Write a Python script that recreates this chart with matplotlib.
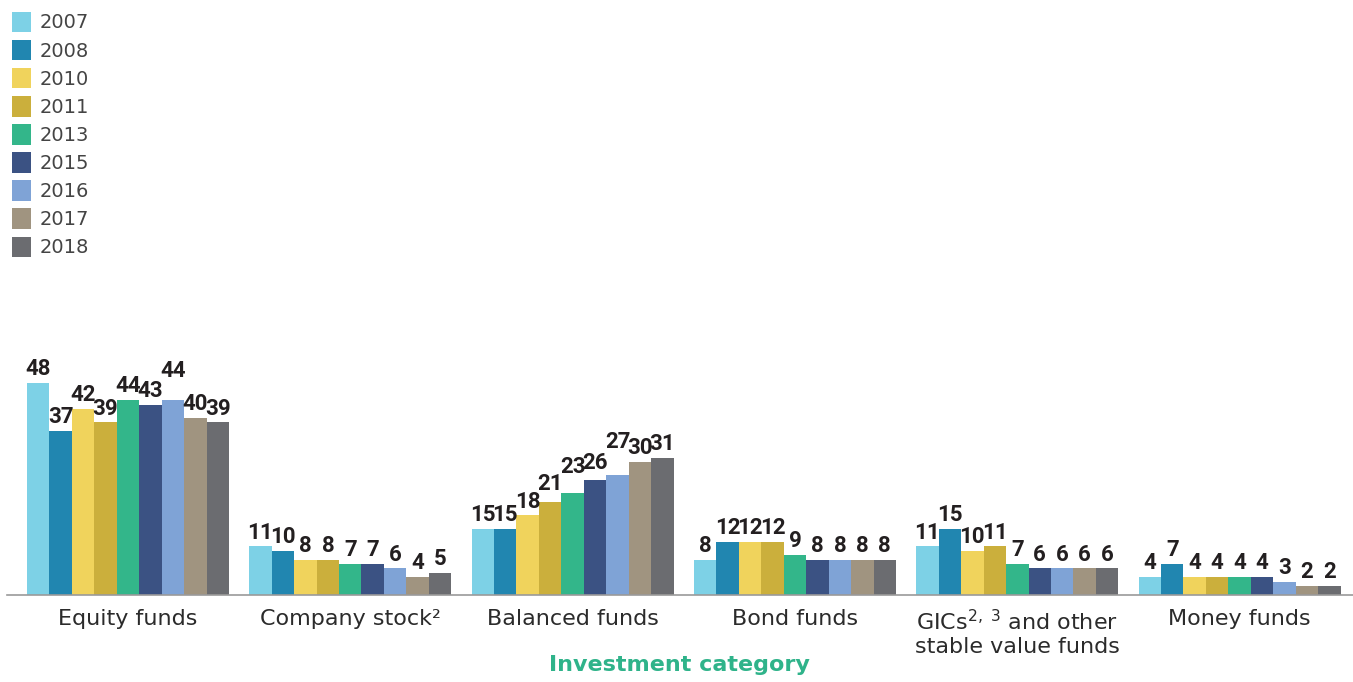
import matplotlib.pyplot as plt
import numpy as np

categories = ['Equity funds', 'Company stock²', 'Balanced funds', 'Bond funds',
              'GICs$^{2,\\ 3}$ and other\nstable value funds', 'Money funds']
years = ['2007', '2008', '2010', '2011', '2013', '2015', '2016', '2017', '2018']

v2007 = [48, 11, 15, 8, 11, 4]
v2008 = [37, 10, 15, 12, 15, 7]
v2010 = [42, 8, 18, 12, 10, 4]
v2011 = [39, 8, 21, 12, 11, 4]
v2013 = [44, 7, 23, 9, 7, 4]
v2015 = [43, 7, 26, 8, 6, 4]
v2016 = [44, 6, 27, 8, 6, 3]
v2017 = [40, 4, 30, 8, 6, 2]
v2018 = [39, 5, 31, 8, 6, 2]
series = [v2007, v2008, v2010, v2011, v2013, v2015, v2016, v2017, v2018]

colors = ['#7dd1e6', '#2186b0', '#f0d35c', '#cbaf3c', '#33b68a',
          '#3b5283', '#7fa3d6', '#a09480', '#6b6c70']

# labels nudged up (points) where they would collide with a neighbour
lift = {(0, 6): 11, (2, 3): 3, (2, 4): 9, (2, 5): 2, (2, 6): 14}

plt.rcParams['font.family'] = ['DejaVu Sans']
plt.rcParams['mathtext.default'] = 'regular'

fig = plt.figure(figsize=(13.53, 6.82), dpi=100)
ax = fig.add_axes([0.005, 0.1276, 0.995, 0.49])

x = np.arange(len(categories))
w = 0.101
for i, (yr, vals, c) in enumerate(zip(years, series, colors)):
    pos = x + (i - 4) * w
    ax.bar(pos, vals, width=w, color=c, label=yr, linewidth=0)
    for j, (p, v) in enumerate(zip(pos, vals)):
        ax.annotate(str(v), (p, v), xytext=(0, 2 + lift.get((j, i), 0)),
                    textcoords='offset points', ha='center', va='bottom',
                    fontsize=16, fontweight='bold', color='#231f20',
                    family='Roboto')

ax.set_xlim(-0.545, 5.51)
ax.set_ylim(0, 75.5)
for s in ['top', 'right', 'left']:
    ax.spines[s].set_visible(False)
ax.spines['bottom'].set_color('#9a9a9a')
ax.spines['bottom'].set_linewidth(1.2)
ax.set_yticks([])
ax.set_xticks(x)
ax.set_xticklabels(categories, fontsize=16, color='#2b2b2b', linespacing=1.2)
ax.tick_params(axis='x', length=0, pad=10)

fig.text(0.502, 0.025, 'Investment category', fontsize=16, fontweight='bold',
         color='#2fb38a', ha='center', va='center')

fig.legend(loc='upper left', bbox_to_anchor=(0.0, 1.0), frameon=False,
           fontsize=14, handlelength=1.0, handleheight=1.25,
           handletextpad=0.45, labelspacing=0.375, borderpad=0.3,
           borderaxespad=0.3, labelcolor='#444444')

fig.savefig('out.png', dpi=100)
